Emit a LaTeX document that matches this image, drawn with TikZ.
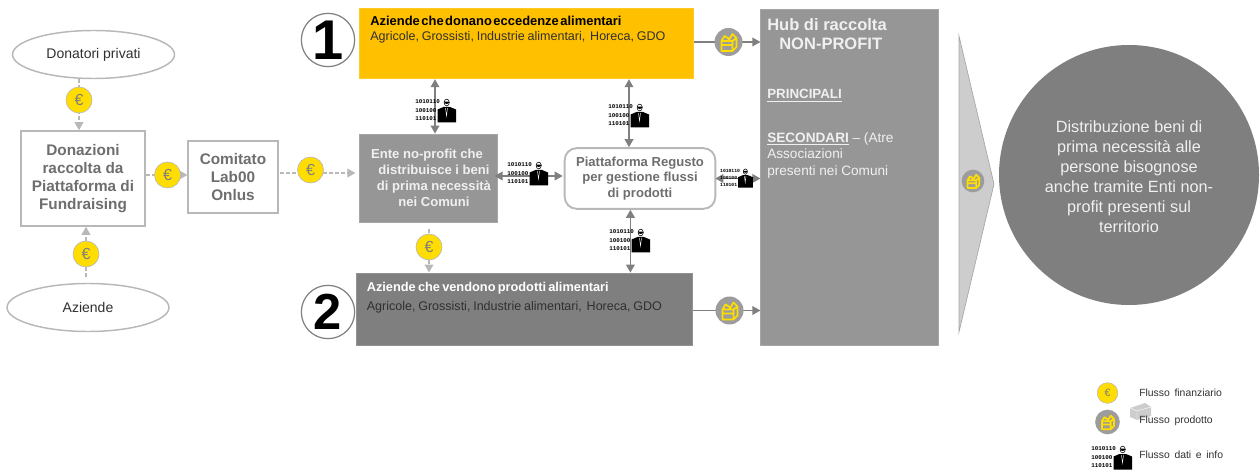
\documentclass[tikz,border=0pt]{standalone}
\usepackage{fontspec}
\setmainfont{Liberation Sans}
\newfontfamily\binfont{Liberation Mono}
\usetikzlibrary{shapes.geometric,arrows.meta,calc,backgrounds}
\newcommand{\fs}[2]{\fontsize{#1}{#2}\selectfont}
\definecolor{coiny}{HTML}{FFDD00}
\definecolor{boxy}{HTML}{FFC000}
\definecolor{gmid}{HTML}{969696}
\definecolor{gdark}{HTML}{7F7F7F}
\definecolor{gline}{HTML}{B8B8B8}
\definecolor{gtext}{HTML}{6E6E6E}
\definecolor{ktext}{HTML}{303030}
\definecolor{ltext}{HTML}{F0F0F0}
\tikzset{
  x=0.75pt,y=-0.75pt,
  whitebox/.style={draw=gline,line width=1.4pt,fill=white,inner sep=0pt,text=gtext,align=center,font=\bfseries\fs{11.5}{13.6}},
  oval/.style={ellipse,draw=gline,line width=1.1pt,fill=white,inner sep=0pt,font=\fs{10.5}{12},text=ktext},
  solidbox/.style={draw=#1!85!white,line width=0.6pt,fill=#1,inner sep=0pt},
  coin/.style={circle,draw=gline,line width=0.5pt,fill=coiny,minimum size=19.5pt,inner sep=0pt,text=gdark,font=\fs{12}{12}},
  pcoin/.style={circle,draw=none,fill=gline!85!black,minimum size=#1,inner sep=0pt},
  num/.style={circle,draw=gdark,line width=0.9pt,fill=white,minimum size=40pt,inner sep=0pt,font=\bfseries},
  lbl/.style={inner sep=0pt,anchor=base west},
  money/.style={draw=gline,line width=1.1pt,dash pattern=on 3pt off 1.6pt,-{Triangle[width=6.5pt,length=6pt,fill=gline]}},
  datal/.style={draw=gdark,line width=1.1pt,{Triangle[width=6.5pt,length=6pt]}-{Triangle[width=6.5pt,length=6pt]}},
  prodl/.style={draw=gdark,line width=1pt,-{Triangle[width=6.5pt,length=6pt]}},
  dataicon/.pic={
    \foreach \t/\yy in {1010110/4,100100/12.5,110101/21}
      \node[inner sep=0pt,anchor=west,transform shape,text=black,font=\binfont\bfseries\fs{4.4}{5}] at (0,\yy) {\t};
    \fill[black] (22.5,24.5) -- (22.5,11.5) -- (28.5,9) -- (35,9) -- (41,11.5) -- (41,24.5) -- cycle;
    \draw[white,line width=0.3pt] (30.5,10) -- (31.5,18) -- (32.5,10);
    \draw[black,fill=white,line width=0.4pt] (31.7,4.5) ellipse (2.6 and 3.4);
    \fill[black] (29.1,3.6) arc (180:0:2.6 and 2.4) -- cycle;
  },
  boxicon/.pic={
    \draw[coiny,line width=1.3pt,line join=round]
      (-7,-1) rectangle (4,9)
      (-7,3) -- (4,3)
      (-7,-1) -- (-4,-6) -- (1,-3) -- (-1,-1)
      (1,-3) -- (4,-8) -- (8,-4) -- (4,-1)
      (8,-4) -- (8,5) -- (4,9);
  },
}
\begin{document}
\begin{tikzpicture}
\useasboundingbox (0,0) rectangle (1260,470);

% left part
\node[oval,minimum width=121.5pt,minimum height=36pt] (donatori) at (93.5,54.5) {Donatori privati};
\node[oval,minimum width=121.5pt,minimum height=36pt] (aziende) at (88,307.5) {Aziende};
\node[whitebox,minimum width=93pt,minimum height=71pt] (donazioni) at (83,178.5) {Donazioni\\raccolta da\\Piattaforma di\\Fundraising};
\node[whitebox,minimum width=67pt,minimum height=54pt] (comitato) at (233,177) {Comitato\\Lab00\\Onlus};

% main boxes
\node[solidbox=boxy,minimum width=250pt,minimum height=53pt] (dona) at (526.5,43.5) {};
\node[solidbox=gmid,minimum width=103pt,minimum height=66pt] (ente) at (428.5,178) {};
\node[solidbox=gdark,minimum width=252pt,minimum height=54pt] (vende) at (524,309) {};
\node[draw=gline,line width=1.4pt,rounded corners=9pt,fill=white,minimum width=113pt,minimum height=45.5pt,inner sep=0pt,align=center,text=gtext,font=\bfseries\fs{9.8}{11.6}] (piatt) at (640,178.5) {Piattaforma Regusto\\per gestione flussi\\di prodotti};
\node[solidbox=gmid,minimum width=133pt,minimum height=252pt] (hub) at (849.5,177) {};
\fill[gline!70!white,draw=gline!90!black,line width=0.5pt] (959,36) -- (994,184) -- (959,332) -- cycle;
\node[circle,fill=gdark,minimum size=195pt,inner sep=0pt] (distrib) at (1129,175) {};

% numbers
\node[num,font=\bfseries\fs{42}{42}] (uno) at (328,40) {1};
\node[num,font=\bfseries\fs{38}{38}] (due) at (328,312) {2};

% coordinates for offset connector ends
\coordinate (comout) at ($(comitato.east)+(1,-4)$);
\coordinate (entein) at ($(ente.west)+(-4,-5)$);

% coins
\node[coin] (c1) at (79,100) {€};
\node[coin] (c2) at (86,254) {€};
\node[coin] (c3) at (167.5,175) {€};
\node[coin] (c4) at (310.5,170) {€};
\node[coin] (c5) at (429,247) {€};
\node[pcoin=21pt] (p1) at (728.5,42) {};
\node[pcoin=21pt] (p2) at (729.5,310.5) {};
\node[pcoin=17pt] (p3) at (973,181) {};
\pic at (p1) {boxicon};
\pic at (p2) {boxicon};
\pic[scale=0.78] at (p3) {boxicon};

% connectors passing behind the coins
\begin{scope}[on background layer]
\draw[money] (donatori.south -| c1) -- (donazioni.north -| c1);
\draw[money,shorten <=4pt] (aziende.north -| c2) -- (donazioni.south -| c2);
\draw[money] (donazioni.east |- c3) -- (comitato.west |- c3);
\draw[money] (comout) -- (entein);
\draw[money,shorten <=5pt] (ente.south -| c5) -- (vende.north -| c5);
\draw[prodl] (dona.east |- p1) -- (hub.west |- p1);
\draw[prodl] (vende.east |- p2) -- (hub.west |- p2);
\end{scope}

% data connectors
\draw[datal] ($(dona.south)+(-91.5,0)$) coordinate (da) -- (ente.north -| da);
\draw[datal] ($(dona.south)+(102.5,0)$) coordinate (db) -- (piatt.north -| db);
\draw[datal] (piatt.south -| vende.north east) ++(-62,0) coordinate (dc) -- (vende.north -| dc);
\draw[datal] ($(ente.east)+(-3,-2)$) -- ($(piatt.west)+(-1,-2.5)$);
\draw[datal] ($(piatt.east)+(-1,0)$) -- (hub.west |- piatt.east);

% data icons
\pic at (415,98) {dataicon};
\pic at (608,103) {dataicon};
\pic at (507,161) {dataicon};
\pic at (609,228) {dataicon};
\pic[scale=0.8] at (720,168) {dataicon};

% box texts
\node[lbl,text=black,font=\bfseries\fs{9.7}{12}] (t1) at (370,25.5) {\spaceskip=.12em Aziende che donano eccedenze alimentari};
\node[lbl,text=ktext,font=\fs{9.4}{12}] (t2) at (370,40.5) {\spaceskip=.22em Agricole, Grossisti, Industrie alimentari, \,Horeca, GDO};
\node[lbl,text=white,font=\bfseries\fs{9.6}{12}] (t3) at (366.5,291.5) {\spaceskip=.17em Aziende che vendono prodotti alimentari};
\node[lbl,text=ktext,font=\fs{9.4}{12}] (t4) at (366.5,310.5) {\spaceskip=.22em Agricole, Grossisti, Industrie alimentari, \,Horeca, GDO};
\node[inner sep=0pt,align=center,text=ltext,font=\bfseries\fs{9.8}{12}] (t5) at (434,178) {\hspace*{-10.5pt}Ente no-profit che\\distribuisce i beni\\di prima necessità\\nei Comuni};

\node[lbl,text=ltext,font=\bfseries\fs{12.4}{14}] (h1) at (767,30.5) {Hub di raccolta};
\node[lbl,text=ltext,font=\bfseries\fs{12.4}{14}] (h2) at (779,50) {NON-PROFIT};
\node[lbl,text=ltext,font=\bfseries\fs{10}{12}] (h3) at (767,99) {\underline{PRINCIPALI}};
\node[lbl,text=ltext,font=\fs{10.2}{12}] (h4) at (767,142.5) {\underline{\textbf{SECONDARI}} -- (Atre};
\node[lbl,text=ltext,font=\fs{10.2}{12}] (h5) at (767,159) {Associazioni};
\node[lbl,text=ltext,font=\fs{10.2}{12}] (h6) at (767,175.5) {presenti nei Comuni};

\node[inner sep=0pt,text=ltext,align=center,font=\fs{12.2}{15}] (t6) at (1129,177) {Distribuzione beni di\\prima necessità alle\\persone bisognose\\anche tramite Enti non-\\profit presenti sul\\territorio};

% legend
\node[circle,draw=gline,line width=0.4pt,fill=coiny,minimum size=15.5pt,inner sep=0pt,text=gdark,font=\fs{8}{8}] (lc) at (1107.5,393) {€};
\node[pcoin=18.5pt] (lp) at (1107.5,422) {};
\pic[scale=0.8] at (lp) {boxicon};
\fill[gline!70!white] (1130,408) -- (1145,403) -- (1151,407) -- (1151,416) -- (1137,420) -- (1130,417) -- cycle;
\draw[white,line width=0.3pt] (1130,408) -- (1137,411) -- (1151,407) (1137,411) -- (1137,420);
\pic at (1091,445) {dataicon};
\node[lbl,text=ktext,font=\fs{7.8}{9}] (l1) at (1139,396) {Flusso \,finanziario};
\node[lbl,text=ktext,font=\fs{7.8}{9}] (l2) at (1139,423) {Flusso \,prodotto};
\node[lbl,text=ktext,font=\fs{7.8}{9}] (l3) at (1139,458) {Flusso \,dati \,e \,info};
\end{tikzpicture}
\end{document}
